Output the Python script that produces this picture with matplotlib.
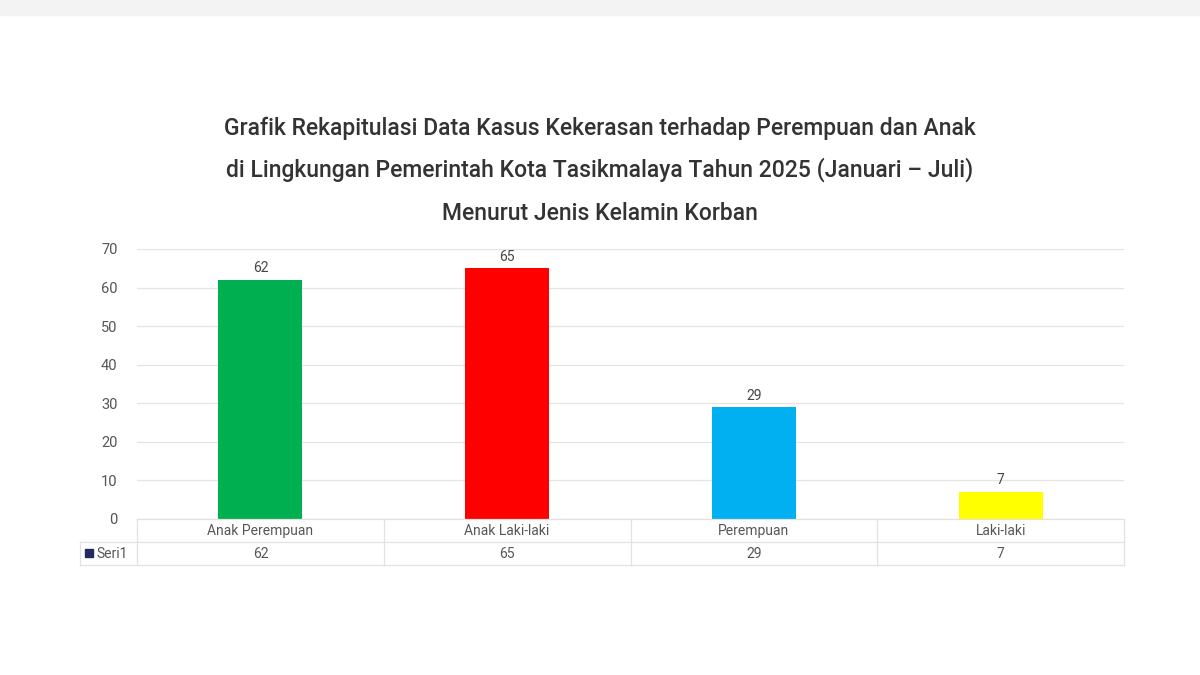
import matplotlib.pyplot as plt
from matplotlib.lines import Line2D
from matplotlib.patches import Rectangle

categories = ["Anak Perempuan", "Anak Laki-laki", "Perempuan", "Laki-laki"]
values = [62, 65, 29, 7]
colors = ["#00B050", "#FF0000", "#00B0F0", "#FFFF00"]
yticks = [0, 10, 20, 30, 40, 50, 60, 70]

plt.rcParams["font.family"] = "Roboto"

fig = plt.figure(figsize=(12, 6.75), dpi=100, facecolor="white")
W, H = 1200, 675
fig.add_artist(Rectangle((0, 1 - 15 / H), 1, 15 / H, transform=fig.transFigure,
                         color="#F3F3F3", zorder=0))

L, R, B, T = 137 / W, 1124 / W, 1 - 519 / H, 1 - 249 / H
ax = fig.add_axes([L, B, R - L, T - B])
x = range(len(categories))
ax.bar(x, values, width=0.34, color=colors, zorder=3)
for i, v in zip(x, values):
    ax.text(i, v + 1.2, str(v), ha="center", va="bottom", fontsize=10, color="#444444")
ax.set_xlim(-0.5, len(categories) - 0.5)
ax.set_ylim(0, 70)
ax.set_yticks(yticks)
ax.tick_params(axis="y", length=0, labelsize=10.5, colors="#555555", pad=14)
ax.set_xticks([])
ax.yaxis.grid(True, color="#E4E4E4", linewidth=0.9, zorder=0)
for sp in ax.spines.values():
    sp.set_visible(False)

# data table below the axis
def hline(y, x0, x1):
    fig.add_artist(Line2D([x0 / W, x1 / W], [1 - y / H, 1 - y / H], color="#E2E2E2", lw=0.9))

def vline(xp, y0, y1):
    fig.add_artist(Line2D([xp / W, xp / W], [1 - y0 / H, 1 - y1 / H], color="#E2E2E2", lw=0.9))

hline(519, 137, 1124)
hline(542, 80, 1124)
hline(565, 80, 1124)
vline(80, 542, 565)
cw = (1124 - 137) / len(categories)
for k in range(len(categories) + 1):
    vline(137 + k * cw, 519, 565)
for k, (c, v) in enumerate(zip(categories, values)):
    cx = (137 + (k + 0.5) * cw) / W
    fig.text(cx, 1 - 531 / H, c, ha="center", va="center", fontsize=10, color="#555555")
    fig.text(cx, 1 - 554 / H, str(v), ha="center", va="center", fontsize=10, color="#555555")
fig.add_artist(Rectangle((85 / W, 1 - 557 / H), 8 / W, 8 / H, transform=fig.transFigure,
                         color="#1F2A60"))
fig.text(97 / W, 1 - 554 / H, "Seri1", ha="left", va="center", fontsize=10, color="#555555")

titles = ["Grafik Rekapitulasi Data Kasus Kekerasan terhadap Perempuan dan Anak",
          "di Lingkungan Pemerintah Kota Tasikmalaya Tahun 2025 (Januari – Juli)",
          "Menurut Jenis Kelamin Korban"]
for t, yp in zip(titles, [128, 170, 213]):
    fig.text(0.5, 1 - yp / H, t, ha="center", va="center", fontsize=16.5,
             fontweight="medium", color="#333333")

fig.savefig("out.png", dpi=100, facecolor="white")
